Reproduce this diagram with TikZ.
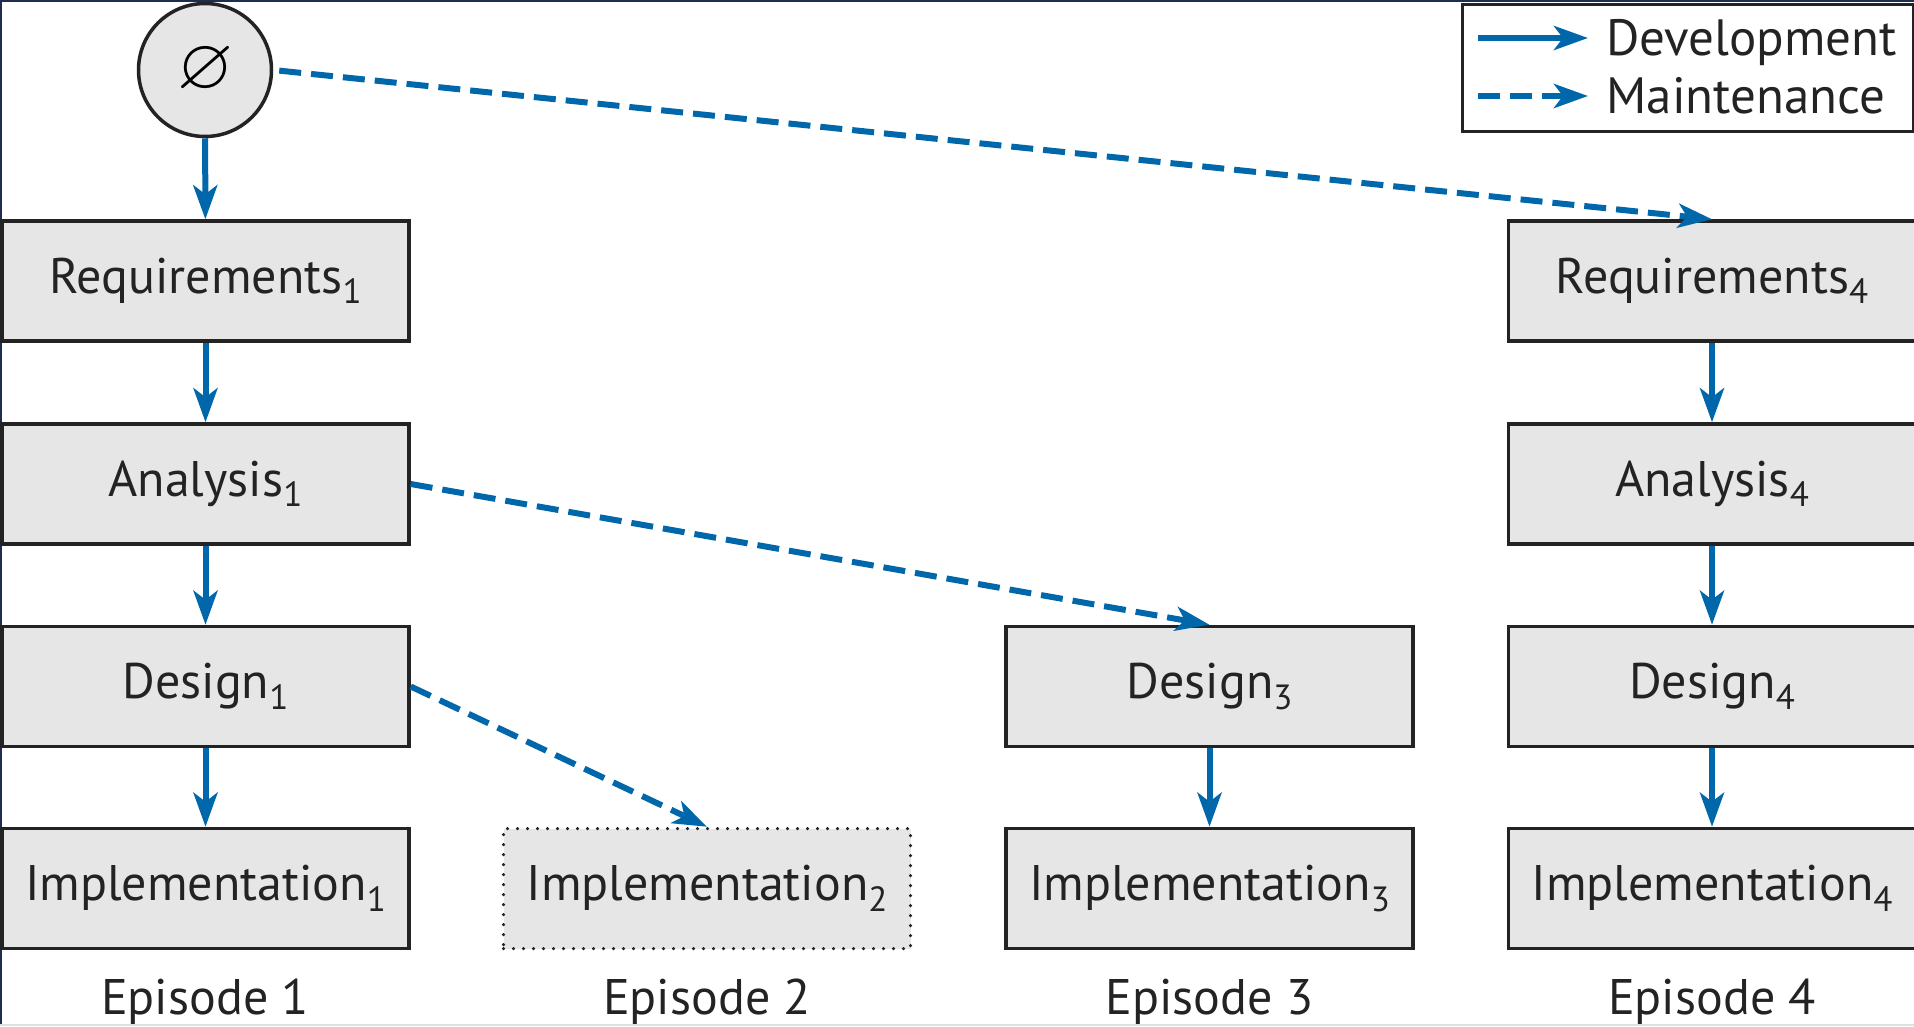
\documentclass[tikz,border=0pt]{standalone}
\usepackage{fontspec}
\usepackage{amssymb}
\setmainfont{PT Sans}[Numbers=Lining]
\usetikzlibrary{arrows.meta}
\definecolor{flowblue}{RGB}{0,104,170}
\definecolor{boxgray}{RGB}{230,230,230}
\definecolor{edgegray}{RGB}{35,35,35}
\definecolor{framenavy}{RGB}{30,45,80}
\newcommand\lsub[1]{\raisebox{-0.21em}{\fontsize{35}{40}\selectfont #1}}
\begin{document}
\begin{tikzpicture}[x=1pt,y=-1pt,
  phase/.style={draw=edgegray, fill=boxgray, line width=3.5pt, minimum width=407pt,
    minimum height=120pt, inner sep=0pt, text height=36pt, text depth=12pt,
    text=edgegray, font=\fontsize{50}{60}\selectfont},
  ghost/.style={phase, dash pattern=on 0pt off 10pt, line cap=round, line width=3.5pt},
  dev/.style={draw=flowblue, line width=6pt, -{Stealth[length=34pt,width=24pt,inset=9pt]}},
  maint/.style={dev, dash pattern=on 22pt off 10pt},
  eplabel/.style={anchor=base, text=edgegray, font=\fontsize{50}{60}\selectfont},
  legtext/.style={anchor=base west, text=edgegray, font=\fontsize{51}{60}\selectfont},
]
\useasboundingbox (0,0) rectangle (1914,1026);
\fill[white] (0,0) rectangle (1914,1026);
\draw[framenavy, line width=4pt] (0,1026) -- (0,0) -- (1914,0);
\draw[black!12, line width=2pt] (0,1025) -- (1914,1025);

% start
\node (start) [circle, draw=edgegray, fill=boxgray, line width=3.5pt, minimum size=133pt, inner sep=0pt]
  at (205,70) {\fontsize{72}{72}\selectfont$\varnothing$};

% episode 1
\node (req1) [phase] at (205.5,281) {Requirements\lsub{1}};
\node (an1)  [phase] at (205.5,484) {Analysis\lsub{1}};
\node (des1) [phase] at (205.5,686.5) {Design\lsub{1}};
\node (imp1) [phase] at (205.5,888.5) {Implementation\lsub{1}};
% episode 2
\node (imp2) [ghost] at (707,888.5) {Implementation\lsub{2}};
% episode 3
\node (des3) [phase] at (1209.5,686.5) {Design\lsub{3}};
\node (imp3) [phase] at (1209.5,888.5) {Implementation\lsub{3}};
% episode 4
\node (req4) [phase] at (1712,281) {Requirements\lsub{4}};
\node (an4)  [phase] at (1712,484) {Analysis\lsub{4}};
\node (des4) [phase] at (1712,686.5) {Design\lsub{4}};
\node (imp4) [phase] at (1712,888.5) {Implementation\lsub{4}};

% episode labels
\node (ep1) [eplabel] at (205,1014) {Episode 1};
\node (ep2) [eplabel] at (707,1014) {Episode 2};
\node (ep3) [eplabel] at (1209.5,1014) {Episode 3};
\node (ep4) [eplabel] at (1712,1014) {Episode 4};

% development
\draw[dev] (start) -- (req1);
\draw[dev] (req1) -- (an1);
\draw[dev] (an1) -- (des1);
\draw[dev] (des1) -- (imp1);
\draw[dev] (des3) -- (imp3);
\draw[dev] (req4) -- (an4);
\draw[dev] (an4) -- (des4);
\draw[dev] (des4) -- (imp4);

% maintenance
\draw[maint, shorten <=6pt] (start.east) -- (req4.north);
\draw[maint] (an1.east) -- (des3.north);
\draw[maint] (des1.east) -- (imp2.north);

% legend
\node (legend) [draw=edgegray, line width=2.5pt, fill=white, anchor=north west,
  minimum width=451pt, minimum height=127pt, inner sep=0pt] at (1461,3) {};
\coordinate (d0) at (1478,38);
\coordinate (d1) at (1588,38);
\coordinate (m0) at (1478,96);
\coordinate (m1) at (1588,96);
\draw[dev] (d0) -- (d1);
\draw[maint] (m0) -- (m1);
\node (ldev) [legtext] at (1603,55) {Development};
\node (lmai) [legtext] at (1603,113) {Maintenance};
\end{tikzpicture}
\end{document}
